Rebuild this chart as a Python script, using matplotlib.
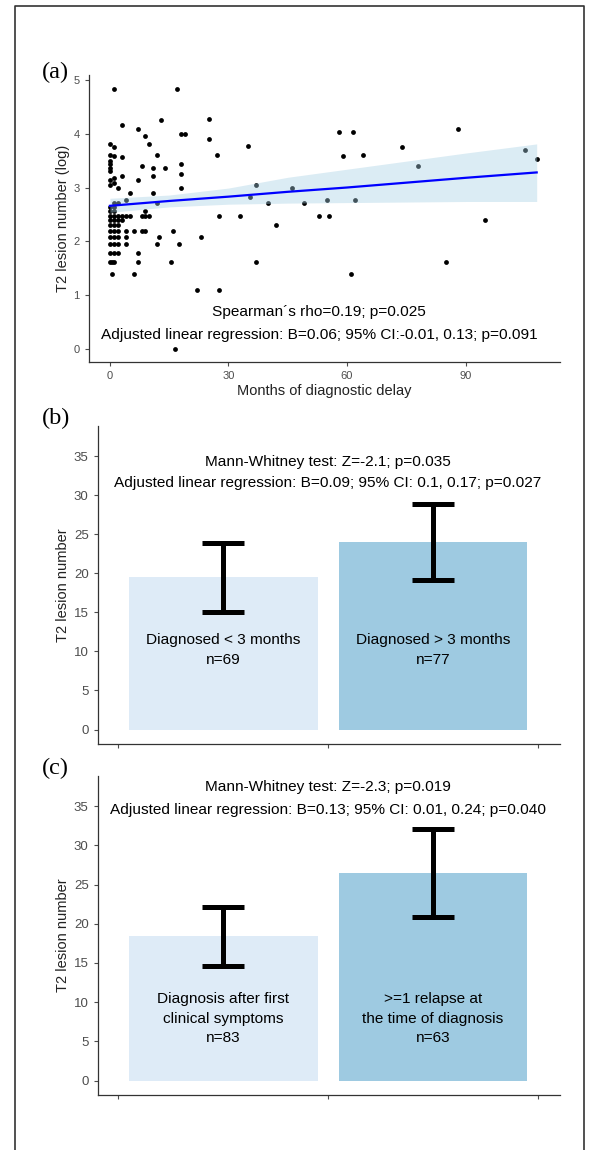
import matplotlib.pyplot as plt
from matplotlib.lines import Line2D

plt.rcParams['font.family'] = ['Liberation Sans', 'DejaVu Sans']

# (a) months of delay vs log T2 lesion number
delay = [1, 3, 0, 1, 0, 1, 3, 0, 0, 0, 0, 3, 1, 0, 1, 0, 2, 5, 4, 2, 1, 0, 1,
         0, 1, 0, 1, 2, 3, 4, 5, 0, 1, 2, 3, 0, 1, 2, 0, 1, 2, 4,
         0, 1, 2, 4, 0, 1, 2, 4, 0, 1, 2, 0, 0.5, 1, 0.5,
         17, 7, 13, 25, 9, 10, 18, 19, 25, 27, 35, 12, 8, 11, 14, 18, 11, 18,
         7, 18, 11, 12, 35.5, 37, 40, 46, 42, 33, 27.5, 9, 8, 9, 10, 6, 8, 9,
         16, 12.5, 23, 12, 17.5, 7, 7, 15.5, 6, 22, 27.5, 37, 16.5,
         58, 61.5, 88, 59, 64, 74, 78, 105, 108, 49, 55, 62, 53, 55.5, 95, 85, 61]
t2_log = [4.83, 4.17, 3.81, 3.76, 3.61, 3.58, 3.56, 3.50, 3.43, 3.37, 3.30, 3.22, 3.18,
          3.14, 3.09, 3.04, 3.00, 2.89, 2.77, 2.71, 2.71, 2.64, 2.64,
          2.56, 2.56, 2.48, 2.48, 2.48, 2.48, 2.48, 2.48, 2.40, 2.40, 2.40, 2.40,
          2.30, 2.30, 2.30, 2.20, 2.20, 2.20, 2.20,
          2.08, 2.08, 2.08, 2.08, 1.95, 1.95, 1.95, 1.95, 1.79, 1.79, 1.79,
          1.61, 1.61, 1.61, 1.39,
          4.83, 4.09, 4.25, 4.28, 3.95, 3.81, 4.00, 4.00, 3.91, 3.61, 3.78, 3.61,
          3.40, 3.37, 3.37, 3.43, 3.22, 3.26,
          3.14, 3.00, 2.89, 2.71, 2.83, 3.04, 2.71, 3.00, 2.30, 2.48, 2.48, 2.56,
          2.48, 2.48, 2.48, 2.20, 2.20, 2.20,
          2.20, 2.08, 2.08, 1.95, 1.95, 1.79, 1.61, 1.61, 1.39, 1.10, 1.10, 1.61, 0.0,
          4.03, 4.03, 4.09, 3.58, 3.61, 3.76, 3.40, 3.69, 3.53, 2.71, 2.77, 2.77,
          2.48, 2.48, 2.40, 1.61, 1.39]

# regression line and 95% band
fit_x = [0, 15, 30, 45, 60, 75, 90, 108]
fit_y = [2.66, 2.75, 2.83, 2.92, 3.00, 3.09, 3.18, 3.28]
band_lo = [2.54, 2.64, 2.69, 2.71, 2.72, 2.73, 2.74, 2.74]
band_hi = [2.80, 2.86, 2.99, 3.19, 3.34, 3.49, 3.64, 3.81]

# (b) diagnosed < / > 3 months
b_means = [19.5, 24.0]
b_lo = [15.1, 19.2]
b_hi = [23.9, 28.9]
b_labels = ['Diagnosed < 3 months\nn=69', 'Diagnosed > 3 months\nn=77']

# (c) first symptoms vs relapse before diagnosis
c_means = [18.4, 26.5]
c_lo = [14.6, 20.9]
c_hi = [22.2, 32.1]
c_labels = ['Diagnosis after first\nclinical symptoms\nn=83',
            '>=1 relapse at\nthe time of diagnosis\nn=63']

bar_colors = ['#deebf7', '#9ecae1']
axis_col = '#333333'
tick_col = '#4d4d4d'
txt_size = 11.1

W, H = 590, 1150
fig = plt.figure(figsize=(W / 100, H / 100), dpi=100)


def px_axes(left, top, right, bottom):
    return fig.add_axes([left / W, 1 - bottom / H, (right - left) / W, (bottom - top) / H])


def style(ax, labelsize):
    for s in ['top', 'right']:
        ax.spines[s].set_visible(False)
    for s in ['left', 'bottom']:
        ax.spines[s].set_color(axis_col)
        ax.spines[s].set_linewidth(0.9)
    ax.tick_params(colors=tick_col, labelsize=labelsize, length=3, width=0.8,
                   labelcolor=tick_col)


# panel a
ax = px_axes(88.6, 75, 560, 362.3)
style(ax, 8)
ax.scatter(delay, t2_log, s=12, color='black', linewidths=0, zorder=2)
ax.fill_between(fit_x, band_lo, band_hi, color='#a6d0e4', alpha=0.4, linewidth=0, zorder=3)
ax.plot(fit_x, fit_y, color='#0000ff', linewidth=1.6, zorder=4)
ax.set_xlim(-5.4, 113.9)
ax.set_ylim(-0.247, 5.09)
ax.set_xticks([0, 30, 60, 90])
ax.set_yticks([0, 1, 2, 3, 4, 5])
ax.set_xlabel('Months of diagnostic delay', fontsize=10.5, color='#222222')
ax.set_ylabel('T2 lesion number (log)', fontsize=10.5, color='#222222')
ax.xaxis.set_label_coords(0.5, -0.075)
ax.yaxis.set_label_coords(-0.039, 0.5)
ax.text(53, 0.69, 'Spearman´s rho=0.19; p=0.025', ha='center', va='center', fontsize=txt_size)
ax.text(53, 0.26, 'Adjusted linear regression: B=0.06; 95% CI:-0.01, 0.13; p=0.091',
        ha='center', va='center', fontsize=txt_size)


def bar_panel(ax, means, lo, hi, labels, line1, line2, y1, y2, label_y):
    style(ax, 9.5)
    ax.bar([1, 2], means, width=0.9, color=bar_colors, zorder=2)
    yerr = [[m - l for m, l in zip(means, lo)], [h - m for m, h in zip(means, hi)]]
    ax.errorbar([1, 2], means, yerr=yerr, fmt='none', ecolor='black',
                elinewidth=3.6, capsize=15, capthick=3.6, zorder=3)
    for x, lab in zip([1, 2], labels):
        ax.text(x, label_y, lab, ha='center', va='center', fontsize=txt_size, linespacing=1.5)
    ax.text(1.5, y1, line1, ha='center', va='center', fontsize=txt_size)
    ax.text(1.5, y2, line2, ha='center', va='center', fontsize=txt_size)
    ax.set_xlim(0.403, 2.605)
    ax.set_ylim(-1.85, 38.85)
    ax.set_xticks([0.5, 1.5, 2.5])
    ax.set_xticklabels([])
    ax.set_yticks(range(0, 40, 5))
    ax.set_ylabel('T2 lesion number', fontsize=10.5, color='#222222')
    ax.yaxis.set_label_coords(-0.06, 0.5)


ax_b = px_axes(97.7, 426, 560, 744)
bar_panel(ax_b, b_means, b_lo, b_hi, b_labels,
          'Mann-Whitney test: Z=-2.1; p=0.035',
          'Adjusted linear regression: B=0.09; 95% CI: 0.1, 0.17; p=0.027',
          34.3, 31.5, 10.2)

ax_c = px_axes(97.7, 776, 560, 1095)
bar_panel(ax_c, c_means, c_lo, c_hi, c_labels,
          'Mann-Whitney test: Z=-2.3; p=0.019',
          'Adjusted linear regression: B=0.13; 95% CI: 0.01, 0.24; p=0.040',
          37.4, 34.5, 7.9)

# panel letters
for lab, x, y in [('(a)', 55, 72), ('(b)', 56, 418), ('(c)', 55, 768)]:
    fig.text(x / W, 1 - y / H, lab, family='Liberation Serif', fontsize=17.5,
             ha='center', va='center')

# outer frame (open at the bottom)
fx = [15 / W, 15 / W, 584 / W, 584 / W]
fy = [0, 1 - 6 / H, 1 - 6 / H, 0]
fig.add_artist(Line2D(fx, fy, color='#333333', linewidth=1.2))

fig.savefig('out.png', dpi=100)
